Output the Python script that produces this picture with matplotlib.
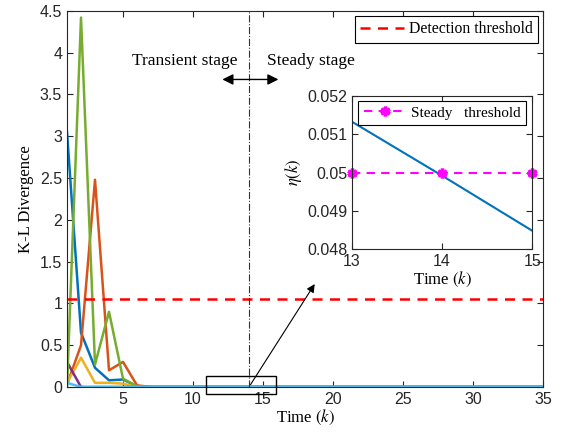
import numpy as np
import matplotlib
matplotlib.use("Agg")
import matplotlib.pyplot as plt
from matplotlib.patches import Rectangle

# ---- data ----
k = np.arange(1, 36)
head_blue   = [3.05, 0.65, 0.23, 0.08, 0.09, 0.01]
head_orange = [0.03, 0.50, 2.48, 0.20, 0.30, 0.02]
head_yellow = [0.05, 0.35, 0.05, 0.05, 0.04, 0.00]
head_purple = [0.30, 0.00, 0.00, 0.00, 0.00, 0.00]
head_green  = [0.00, 4.42, 0.27, 0.90, 0.10, 0.01]
head_cyan   = [0.05, 0.00, 0.00, 0.00, 0.00, 0.00]
tail = [0.0] * (35 - 6)
series = [head_blue + tail, head_orange + tail, head_yellow + tail,
          head_purple + tail, head_green + tail, head_cyan + tail]
colors = ["#0072BD", "#D95319", "#EDB120", "#7E2F8E", "#77AC30", "#4DBEEE"]
detection_threshold = 1.05
split_k = 14

inset_k = [13, 14, 15]
inset_eta = [0.05133, 0.04992, 0.04848]
steady_threshold = [0.05, 0.05, 0.05]

serif = ["Liberation Serif", "DejaVu Serif"]
sans = ["Liberation Sans", "DejaVu Sans"]
plt.rcParams["mathtext.fontset"] = "stix"
plt.rcParams["font.family"] = sans

fig = plt.figure(figsize=(5.65, 4.37), dpi=100)
ax = fig.add_axes([0.1186, 0.1144, 0.8424, 0.8606])

for s, c in zip(series, colors):
    ax.plot(k, s, color=c, lw=1.8)
ax.axhline(detection_threshold, color="red", ls=(0, (4, 3)), lw=1.8,
           label="Detection threshold")
ax.axvline(split_k, color="#333333", ls="-.", lw=0.8)

ax.set_xlim(1, 35)
ax.set_ylim(0, 4.5)
ax.set_xticks([5, 10, 15, 20, 25, 30, 35])
ax.set_yticks(np.arange(0, 4.51, 0.5))
ax.set_yticklabels(["0", "0.5", "1", "1.5", "2", "2.5", "3", "3.5", "4", "4.5"])
ax.tick_params(direction="in", top=True, right=True, labelsize=11.5, length=4,
               colors="#262626")
for sp in ax.spines.values():
    sp.set_color("#262626")
    sp.set_linewidth(0.8)
ax.set_xlabel("Time $(k)$", fontfamily=serif, fontsize=12, labelpad=1)
ax.set_ylabel("K-L Divergence", fontfamily=serif, fontsize=12, labelpad=4)

leg = ax.legend(loc="upper right", prop={"family": serif, "size": 11.3},
                fancybox=False, edgecolor="black", framealpha=1,
                borderaxespad=0.3, handlelength=2.8, handletextpad=0.3,
                borderpad=0.35)
leg.get_frame().set_linewidth(0.8)

ax.text(9.4, 3.9, "Transient stage", fontfamily=serif, fontsize=12.5,
        ha="center", va="center")
ax.text(18.4, 3.9, "Steady stage", fontfamily=serif, fontsize=12.5,
        ha="center", va="center")
ax.annotate("", xy=(11.9, 3.68), xytext=(16.3, 3.68),
            arrowprops=dict(arrowstyle="<|-|>", color="black", lw=1,
                            mutation_scale=16))

ax.add_patch(Rectangle((10.9, -0.08), 5.0, 0.21, fill=False,
                       edgecolor="black", lw=1, clip_on=False, zorder=5))
ax.annotate("", xy=(18.8, 1.26), xytext=(14.0, 0.0),
            arrowprops=dict(arrowstyle="-|>", color="black", lw=0.8,
                            mutation_scale=12))

# ---- inset ----
ins = fig.add_axes([0.623, 0.430, 0.319, 0.350])
ins.plot(inset_k, inset_eta, color="#0072BD", lw=1.5)
ins.plot(inset_k, steady_threshold, color="magenta", ls=(0, (4, 3)), lw=1.5,
         marker=(6, 2, 0), markersize=7, markeredgewidth=2.5,
         label="Steady   threshold", clip_on=False)
ins.set_xlim(13, 15)
ins.set_ylim(0.048, 0.052)
ins.set_xticks([13, 14, 15])
ins.set_yticks([0.048, 0.049, 0.05, 0.051, 0.052])
ins.set_yticklabels(["0.048", "0.049", "0.05", "0.051", "0.052"])
ins.tick_params(direction="in", top=True, right=True, labelsize=11.5, length=4,
                colors="#262626")
for sp in ins.spines.values():
    sp.set_color("#262626")
    sp.set_linewidth(0.8)
ins.set_xlabel("Time $(k)$", fontfamily=serif, fontsize=12, labelpad=1)
ins.set_ylabel(r"$\eta(k)$", fontsize=12, labelpad=2)
leg2 = ins.legend(loc="upper center", prop={"family": serif, "size": 11},
                  fancybox=False, edgecolor="black", framealpha=1,
                  borderaxespad=0.3, handlelength=2.8, handletextpad=0.3,
                  borderpad=0.35)
leg2.get_frame().set_linewidth(0.8)

fig.savefig("out.png", dpi=100)
